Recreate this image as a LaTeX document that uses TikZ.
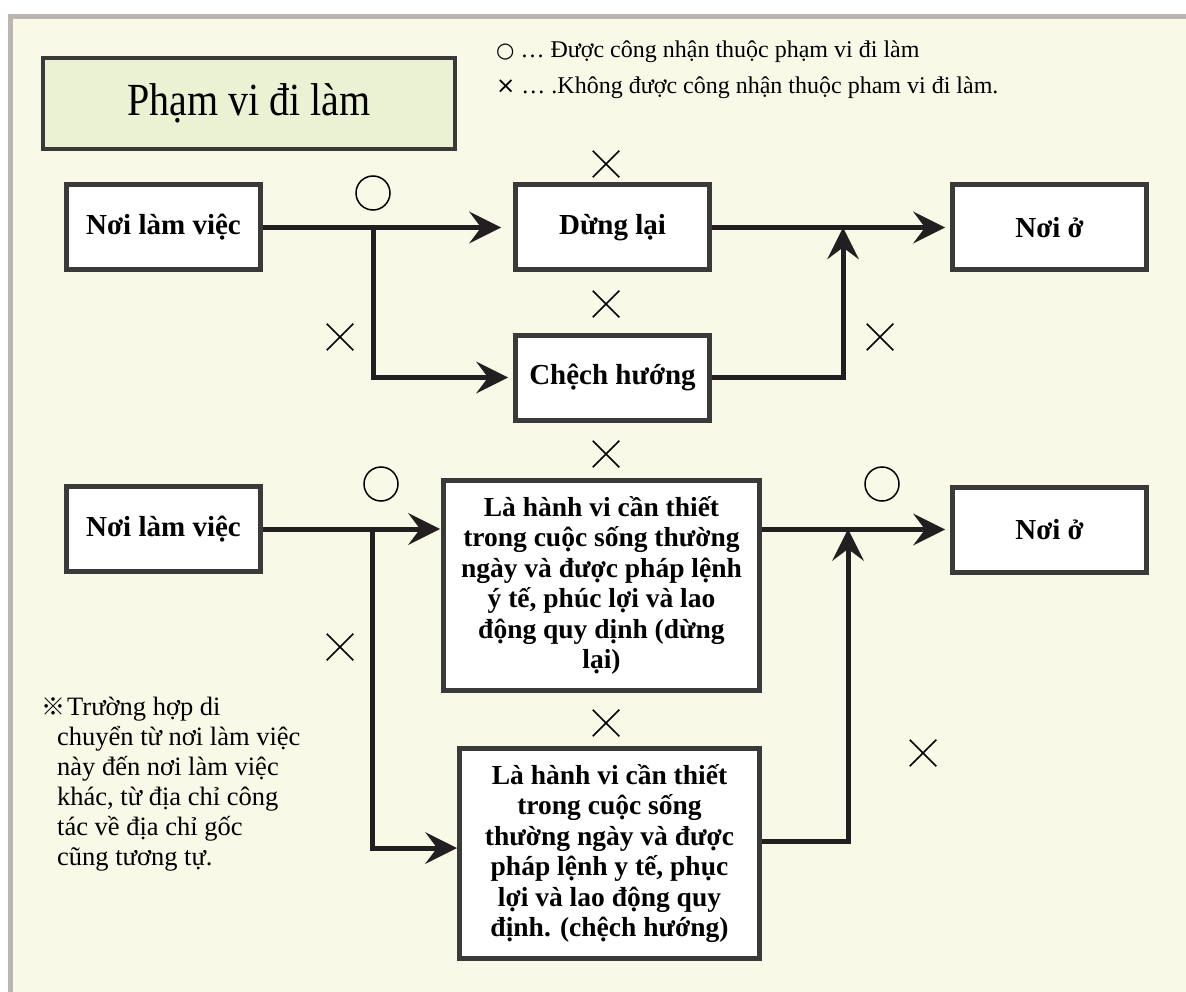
\documentclass[tikz,border=0pt]{standalone}
\usepackage{fontspec}
\setmainfont{Liberation Serif}
\newfontfamily\titlefont[FakeStretch=0.87]{Liberation Serif}
\newfontfamily\symfont{DejaVu Sans}
\newfontfamily\cjkfont{Noto Sans CJK JP}
\usetikzlibrary{positioning,arrows.meta,shapes.misc}

\definecolor{pagecream}{HTML}{F8F9E7}
\definecolor{framegray}{HTML}{BDB3AF}
\definecolor{titlegreen}{HTML}{EBF2D3}
\definecolor{boxgray}{HTML}{3A3A3A}
\definecolor{lineblack}{HTML}{231F20}

\begin{document}
\begin{tikzpicture}[x=1pt, y=-1pt,
    placebox/.style={rectangle, draw=boxgray, fill=white, line width=5pt, minimum width=194pt, minimum height=85pt, align=center, font=\fontsize{29}{30}\selectfont\bfseries},
    bigbox/.style={placebox, minimum height=210pt, font=\fontsize{27.5}{30.5}\selectfont\bfseries},
    titlebox/.style={rectangle, draw=boxgray, fill=titlegreen, line width=4pt, minimum width=412pt, minimum height=91pt, font=\fontsize{46}{50}\titlefont},
    flow/.style={draw=lineblack, line width=5pt, -{Stealth[length=32pt, width=32pt, inset=12pt, line width=0pt]}, shorten >=5pt},
    okmark/.style={circle, draw=black, line width=1.5pt, minimum size=34pt, inner sep=0pt},
    ngmark/.style={cross out, draw=black, line width=1.5pt, minimum size=25pt, inner sep=0pt},
    keytext/.style={anchor=west, inner sep=0pt, font=\fontsize{24}{28}\selectfont},
    ]
      \useasboundingbox (0,0) rectangle (1186,992);
      \clip (0,0) rectangle (1186,992);
      \fill[white] (0,0) rectangle (1186,992);
      \draw[framegray, line width=5pt, fill=pagecream] (10.5,16.5) rectangle (1200,1010);

      %Nodes
      \node[titlebox]  (T)      at (249,103.5)     {Phạm vi đi làm};
      \node[keytext]   (K1)     at (496,52)        {{\symfont\fontsize{21}{28}\selectfont ○} … Được công nhận thuộc phạm vi đi làm};
      \node[keytext]   (K2)     at (496,88)        {{\symfont\fontsize{23}{28}\selectfont ×} … .Không được công nhận thuộc pham vi đi làm.};

      \node[placebox]  (W1)     at (163.5,227.5)   {Nơi làm việc};
      \node[placebox]  (S1)     at (612.5,227.5)   {Dừng lại};
      \node[placebox]  (D1)     at (612.5,377.5)   {Chệch hướng};
      \node[placebox]  (H1)     at (1049.5,227.5)  {Nơi ở};

      \node[placebox]  (W2)     at (163.5,529)     {Nơi làm việc};
      \node[bigbox, minimum width=316pt] (S2) at (601.5,585.5)
            {Là hành vi cần thiết\\ trong cuộc sống thường\\ ngày và được pháp lệnh\\ ý tế, phúc lợi và lao\\ động quy dịnh (dừng\\ lại)};
      \node[bigbox, minimum width=300pt] (D2) at (609.5,853.5)
            {Là hành vi cần thiết\\ trong cuộc sống\\ thường ngày và được\\ pháp lệnh y tế, phục\\ lợi và lao động quy\\ định. (chệch hướng)};
      \node[placebox]  (H2)     at (1049.5,529.5)  {Nơi ở};

      \node[anchor=north west, inner sep=0pt, align=left, font=\fontsize{26.5}{30}\selectfont] (N) at (57,697)
            {\hspace*{10pt}\llap{{\cjkfont\fontsize{24}{30}\selectfont ※}\hspace{2pt}}Trường hợp di\\ chuyển từ nơi làm việc\\ này đến nơi làm việc\\ khác, từ địa chỉ công\\ tác về địa chỉ gốc\\ cũng tương tự.};

      \coordinate (J1) at (373,227.5);
      \coordinate (M1) at (843,227.5);
      \coordinate (J2) at (372,529);
      \coordinate (M2) at (848,529);

      %Marks
      \node[okmark] (O1) at (373,193) {};
      \node[ngmark] (X1) at (606,164) {};
      \node[ngmark] (X2) at (606,304) {};
      \node[ngmark] (X3) at (340,337) {};
      \node[ngmark] (X4) at (880,337) {};
      \node[okmark] (O2) at (381,484) {};
      \node[okmark] (O3) at (882,484) {};
      \node[ngmark] (X5) at (606,454) {};
      \node[ngmark] (X6) at (606,723) {};
      \node[ngmark] (X7) at (340,647) {};
      \node[ngmark] (X8) at (923,753) {};

      %Lines
      \draw[flow, shorten >=12pt] (W1) -- (S1);
      \draw[flow] (J1) |- (D1);
      \draw[flow] (S1) -- (H1);
      \draw[flow, shorten >=0pt] (D1) -| (M1);

      \draw[flow, shorten >=1pt] (W2.east) -- (W2.east -| S2.west);
      \draw[flow, shorten >=0pt] (J2) |- ([yshift=5.5pt]D2.west);
      \draw[flow] (S2.east |- H2) -- (H2);
      \draw[flow, shorten >=0pt] ([yshift=12.5pt]D2.east) -| (M2);
    \end{tikzpicture}
\end{document}
